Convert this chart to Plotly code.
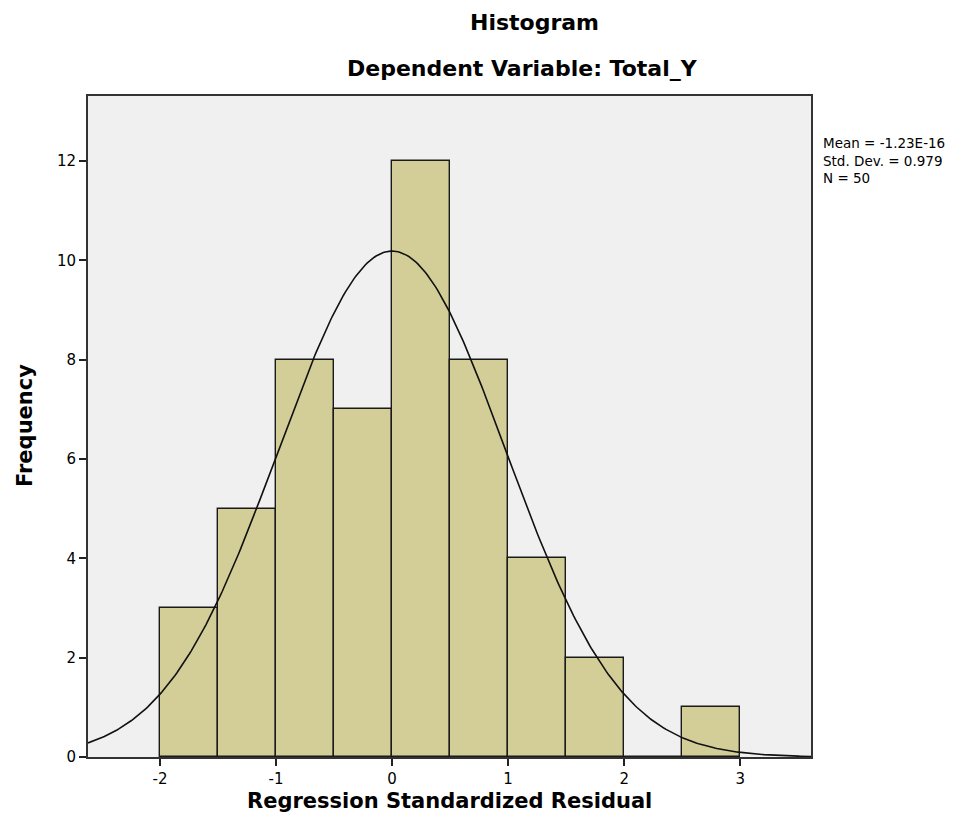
import numpy as np
import plotly.graph_objects as go

# Histogram bins (left edges) and counts
bin_starts = [-2.0, -1.5, -1.0, -0.5, 0.0, 0.5, 1.0, 1.5, 2.0, 2.5]
counts = [3, 5, 8, 7, 12, 8, 4, 2, 0, 1]
bin_width = 0.5

# Summary statistics
mean_val = -1.23e-16
sd_val = 0.979
n_val = 50
stats_text = ["Mean = -1.23E-16", "Std. Dev. = 0.979", "N = 50"]

x_ticks = [-2, -1, 0, 1, 2, 3]
y_ticks = [0, 2, 4, 6, 8, 10, 12]

# page has an 8px body margin, so the figure is offset by 8px
OFF = 8
W, H = 979 - OFF, 839 - OFF
L, R, T, B = 88 - OFF, 168, 96 - OFF, 82
FONT = "DejaVu Sans, Arial, sans-serif"

fig = go.Figure()
fig.add_trace(go.Bar(
    x=[s + bin_width / 2 for s in bin_starts],
    y=counts,
    width=bin_width,
    marker=dict(color="#D3CE97", line=dict(color="#1a1a1a", width=1.4)),
    hoverinfo="x+y",
))

# Normal curve from stated mean / sd / N
xc = np.linspace(-2.62, 3.61, 400)
yc = n_val * bin_width / (sd_val * np.sqrt(2 * np.pi)) * np.exp(-0.5 * ((xc - mean_val) / sd_val) ** 2)
fig.add_trace(go.Scatter(x=xc, y=yc, mode="lines", line=dict(color="#111111", width=1.6),
                         hoverinfo="skip"))

pw = W - L - R
ph = H - T - B

def px_x(px):
    return (px - OFF - L) / pw

def px_y(py):
    return (H - B - (py - OFF)) / ph

TSIZE = 22
annotations = [
    dict(text="<b>Histogram</b>", x=px_x(534), y=px_y(22), xref="paper", yref="paper",
         showarrow=False, font=dict(size=TSIZE, color="#000000", family=FONT), xanchor="center", yanchor="middle"),
    dict(text="<b>Dependent Variable: Total_Y</b>", x=px_x(522), y=px_y(68), xref="paper", yref="paper",
         showarrow=False, font=dict(size=TSIZE, color="#000000", family=FONT), xanchor="center", yanchor="middle"),
    dict(text="<b>Regression Standardized Residual</b>", x=px_x(449), y=px_y(801), xref="paper", yref="paper",
         showarrow=False, font=dict(size=21, color="#000000", family=FONT), xanchor="center", yanchor="middle"),
    dict(text="<b>Frequency</b>", x=px_x(25), y=px_y(426), xref="paper", yref="paper", textangle=-90,
         showarrow=False, font=dict(size=21, color="#000000", family=FONT), xanchor="center", yanchor="middle"),
    dict(text="<br>".join(stats_text), x=px_x(821), y=px_y(133), xref="paper", yref="paper",
         showarrow=False, align="left", font=dict(size=13.5, color="#000000", family=FONT),
         xanchor="left", yanchor="top"),
]

fig.update_layout(
    width=W, height=H,
    margin=dict(l=L, r=R, t=T, b=B, pad=0),
    paper_bgcolor="#FFFFFF",
    plot_bgcolor="#F0F0F0",
    showlegend=False,
    bargap=0,
    font=dict(family=FONT, color="#000000", size=15),
    annotations=annotations,
    xaxis=dict(
        range=[-2.62, 3.61], tickvals=x_ticks, ticktext=[str(v) for v in x_ticks],
        showgrid=False, zeroline=False, ticks="outside", ticklen=7, tickwidth=1.5, tickcolor="#222222",
        showline=True, linecolor="#333333", linewidth=2, mirror=True,
        tickfont=dict(size=15, family=FONT, color="#000000"),
    ),
    yaxis=dict(
        range=[0, 13.31], tickvals=y_ticks, ticktext=[str(v) for v in y_ticks],
        showgrid=False, zeroline=False, ticks="outside", ticklen=7, tickwidth=1.5, tickcolor="#222222",
        showline=True, linecolor="#333333", linewidth=2, mirror=True,
        tickfont=dict(size=15, family=FONT, color="#000000"),
    ),
)

fig.write_html("out.html")
